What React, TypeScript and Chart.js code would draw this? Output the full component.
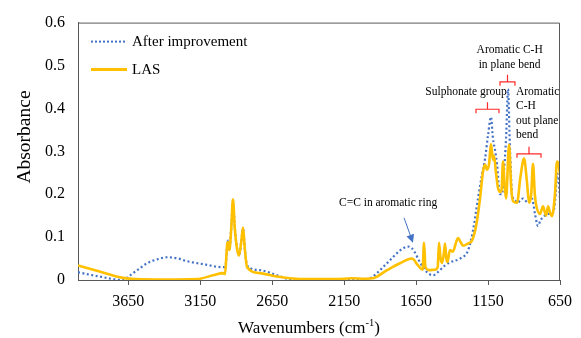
import React, { useEffect, useRef } from 'react';
import { Chart, registerables } from 'chart.js';

Chart.register(...registerables);

const FONT = "'Liberation Serif', 'Times New Roman', serif";

// After improvement (blue dotted)
const afterWn = [4000, 3850, 3687, 3638, 3580, 3520, 3450, 3381, 3300, 3243, 3131, 2992, 2975, 2962, 2957, 2948, 2935, 2923, 2910, 2893, 2881, 2865, 2853, 2840, 2825, 2735, 2617, 2527, 2400, 2000, 1960, 1922, 1880, 1832, 1762, 1706, 1680, 1658, 1623, 1574, 1533, 1484, 1449, 1415, 1345, 1289, 1255, 1220, 1192, 1171, 1150, 1130, 1116, 1100, 1088, 1067, 1053, 1040, 1025, 1011, 1000, 990, 984, 960, 949, 907, 872, 845, 824, 803, 785, 768, 740, 699, 680, 671, 660, 650];
const afterAbs = [0.018, 0.008, 0.0, 0.011, 0.025, 0.039, 0.048, 0.053, 0.05, 0.044, 0.037, 0.03, 0.032, 0.085, 0.092, 0.07, 0.12, 0.18, 0.12, 0.07, 0.058, 0.09, 0.12, 0.07, 0.034, 0.023, 0.011, 0.002, 0.001, 0.001, 0.006, 0.016, 0.03, 0.046, 0.069, 0.078, 0.074, 0.064, 0.041, 0.018, 0.011, 0.023, 0.034, 0.041, 0.05, 0.069, 0.115, 0.19, 0.246, 0.283, 0.338, 0.38, 0.33, 0.3, 0.27, 0.2, 0.2, 0.25, 0.33, 0.445, 0.33, 0.24, 0.2, 0.185, 0.18, 0.19, 0.18, 0.19, 0.154, 0.126, 0.14, 0.145, 0.154, 0.156, 0.2, 0.248, 0.235, 0.19];

// LAS (orange solid)
const lasWn = [4000, 3850, 3687, 3600, 3400, 3173, 3062, 2992, 2978, 2968, 2962, 2955, 2948, 2935, 2923, 2910, 2893, 2881, 2865, 2853, 2840, 2825, 2735, 2617, 2527, 2400, 2200, 2100, 2000, 1950, 1852, 1762, 1679, 1637, 1605, 1595, 1585, 1560, 1520, 1500, 1491, 1480, 1470, 1458, 1449, 1440, 1432, 1415, 1395, 1370, 1359, 1340, 1324, 1290, 1262, 1240, 1227, 1206, 1185, 1171, 1157, 1143, 1130, 1116, 1109, 1095, 1081, 1067, 1056, 1046, 1035, 1025, 1004, 990, 977, 949, 925, 900, 880, 865, 850, 838, 825, 817, 789, 768, 757, 747, 733, 720, 706, 685, 671, 660, 650];
const lasAbs = [0.034, 0.02, 0.005, 0.002, 0.001, 0.002, 0.011, 0.016, 0.014, 0.06, 0.087, 0.088, 0.07, 0.12, 0.188, 0.12, 0.07, 0.057, 0.09, 0.122, 0.07, 0.03, 0.016, 0.008, 0.004, 0.002, 0.002, 0.004, 0.003, 0.004, 0.023, 0.039, 0.05, 0.034, 0.024, 0.087, 0.03, 0.023, 0.024, 0.03, 0.087, 0.05, 0.04, 0.06, 0.085, 0.05, 0.042, 0.07, 0.066, 0.09, 0.098, 0.088, 0.08, 0.085, 0.092, 0.115, 0.138, 0.19, 0.253, 0.269, 0.257, 0.27, 0.317, 0.28, 0.29, 0.25, 0.215, 0.205, 0.21, 0.276, 0.22, 0.19, 0.315, 0.22, 0.184, 0.18, 0.24, 0.283, 0.23, 0.18, 0.2, 0.271, 0.2, 0.177, 0.154, 0.172, 0.16, 0.15, 0.172, 0.158, 0.149, 0.2, 0.276, 0.27, 0.246];

const xTicks = [650, 1150, 1650, 2150, 2650, 3150, 3650];
const yTicks = [0, 0.1, 0.2, 0.3, 0.4, 0.5, 0.6];
const seriesNames = ['After improvement', 'LAS'];

// Annotation texts (anchored in data coordinates: wavenumber, absorbance)
const textNotes = [
  { lines: ['Aromatic C-H', 'in plane bend'], wn: 1000, abs: 0.536, align: 'center' },
  { lines: ['Sulphonate group'], wn: 1303, abs: 0.439, align: 'center' },
  { lines: ['Aromatic', 'C-H', 'out plane', 'bend'], wn: 956, abs: 0.439, align: 'left' },
  { lines: ['C=C in aromatic ring'], wn: 1845, abs: 0.179, align: 'center' },
];
const brackets = [
  { from: 1067, to: 963, abs: 0.462 },
  { from: 1234, to: 1074, abs: 0.398 },
  { from: 949, to: 782, abs: 0.294 },
];
const arrowNote = { fromWn: 1734, fromAbs: 0.145, toWn: 1672, toAbs: 0.087 };

const BLUE = '#4472C4';
const ORANGE = '#FFC000';
const RED = '#FF2A2A';
const AXIS = '#595959';

const overlayPlugin = {
  id: 'overlay',
  afterDraw(chart: any) {
    const ctx = chart.ctx;
    const { left, right, top, bottom } = chart.chartArea;
    const xs = chart.scales.x;
    const ys = chart.scales.y;
    ctx.save();
    // frame top/right
    ctx.strokeStyle = AXIS;
    ctx.lineWidth = 1;
    ctx.beginPath();
    ctx.moveTo(left, top + 0.5);
    ctx.lineTo(right - 0.5, top + 0.5);
    ctx.lineTo(right - 0.5, bottom);
    ctx.stroke();

    // legend
    const lx0 = left + 13, lx1 = left + 49;
    const ly = [top + 19, top + 47];
    ctx.lineWidth = 2;
    ctx.strokeStyle = BLUE;
    ctx.setLineDash([2, 2]);
    ctx.beginPath(); ctx.moveTo(lx0, ly[0]); ctx.lineTo(lx1, ly[0]); ctx.stroke();
    ctx.setLineDash([]);
    ctx.lineWidth = 3;
    ctx.strokeStyle = ORANGE;
    ctx.beginPath(); ctx.moveTo(lx0, ly[1]); ctx.lineTo(lx1, ly[1]); ctx.stroke();
    ctx.fillStyle = '#000';
    ctx.font = `15px ${FONT}`;
    ctx.textBaseline = 'middle';
    ctx.textAlign = 'left';
    ctx.fillText(seriesNames[0], lx1 + 5, ly[0]);
    ctx.fillText(seriesNames[1], lx1 + 5, ly[1]);

    // annotations
    ctx.font = `11.5px ${FONT}`;
    for (const n of textNotes) {
      const x = xs.getPixelForValue(n.wn);
      const y = ys.getPixelForValue(n.abs);
      ctx.textAlign = n.align;
      n.lines.forEach((t, i) => ctx.fillText(t, x, y + i * 14.5));
    }
    ctx.strokeStyle = RED;
    ctx.lineWidth = 1.2;
    for (const b of brackets) {
      const x0 = xs.getPixelForValue(b.from);
      const x1 = xs.getPixelForValue(b.to);
      const y = ys.getPixelForValue(b.abs);
      const xm = (x0 + x1) / 2;
      ctx.beginPath();
      ctx.moveTo(x0, y + 4); ctx.lineTo(x0, y); ctx.lineTo(x1, y); ctx.lineTo(x1, y + 4);
      ctx.moveTo(xm, y); ctx.lineTo(xm, y - 7);
      ctx.stroke();
    }
    // arrow
    const ax0 = xs.getPixelForValue(arrowNote.fromWn), ay0 = ys.getPixelForValue(arrowNote.fromAbs);
    const ax1 = xs.getPixelForValue(arrowNote.toWn), ay1 = ys.getPixelForValue(arrowNote.toAbs);
    const ang = Math.atan2(ay1 - ay0, ax1 - ax0);
    const hl = 8, hw = 4;
    const bx = ax1 - hl * Math.cos(ang), by = ay1 - hl * Math.sin(ang);
    ctx.strokeStyle = BLUE; ctx.fillStyle = BLUE; ctx.lineWidth = 1;
    ctx.beginPath(); ctx.moveTo(ax0, ay0); ctx.lineTo(bx, by); ctx.stroke();
    ctx.beginPath();
    ctx.moveTo(ax1, ay1);
    ctx.lineTo(bx + hw * Math.sin(ang), by - hw * Math.cos(ang));
    ctx.lineTo(bx - hw * Math.sin(ang), by + hw * Math.cos(ang));
    ctx.closePath(); ctx.fill();

    // axis titles
    ctx.fillStyle = '#000';
    const cx = (left + right) / 2 - 10;
    const main = 'Wavenumbers (cm';
    const sup = '-1';
    const close = ')';
    const big = `17px ${FONT}`;
    const small = `10.5px ${FONT}`;
    ctx.font = big;
    const w1 = ctx.measureText(main).width;
    const w3 = ctx.measureText(close).width;
    ctx.font = small;
    const w2 = ctx.measureText(sup).width;
    const sx = cx - (w1 + w2 + w3) / 2;
    const base = 333;
    ctx.textAlign = 'left';
    ctx.textBaseline = 'alphabetic';
    ctx.font = big;
    ctx.fillText(main, sx, base);
    ctx.font = small;
    ctx.fillText(sup, sx + w1, base - 7);
    ctx.font = big;
    ctx.fillText(close, sx + w1 + w2, base);

    ctx.translate(25, 137);
    ctx.rotate(-Math.PI / 2);
    ctx.textAlign = 'center';
    ctx.textBaseline = 'middle';
    ctx.font = `19.5px ${FONT}`;
    ctx.fillText('Absorbance', 0, 0);
    ctx.restore();
  },
};

export default function App() {
  const ref = useRef<HTMLCanvasElement>(null);
  useEffect(() => {
    if (!ref.current) return;
    const chart = new Chart(ref.current, {
      type: 'line',
      data: {
        datasets: [
          {
            label: seriesNames[1],
            data: lasWn.map((w, i) => ({ x: w, y: lasAbs[i] })),
            borderColor: ORANGE,
            borderWidth: 2.6,
            pointRadius: 0,
            cubicInterpolationMode: 'monotone',
            order: 0,
          },
          {
            label: seriesNames[0],
            data: afterWn.map((w, i) => ({ x: w, y: afterAbs[i] })),
            borderColor: BLUE,
            borderWidth: 2.2,
            borderDash: [2, 2.5],
            pointRadius: 0,
            cubicInterpolationMode: 'monotone',
            order: 1,
          },
        ],
      },
      options: {
        animation: false,
        responsive: false,
        devicePixelRatio: 1,
        layout: { padding: { top: 19, right: 21, left: 0, bottom: 0 } },
        plugins: { legend: { display: false }, tooltip: { enabled: false } },
        scales: {
          x: {
            type: 'linear',
            reverse: true,
            min: 650,
            max: 4000,
            afterBuildTicks: (s: any) => { s.ticks = xTicks.map((v) => ({ value: v })); },
            afterFit: (s: any) => { s.height = 58; },
            ticks: { font: { family: FONT, size: 16 }, color: '#000', padding: 7, maxRotation: 0, autoSkip: false, callback: (v: any) => String(v) },
            grid: { display: true, drawOnChartArea: false, drawTicks: true, tickLength: 5, color: AXIS },
            border: { display: true, color: AXIS },
          },
          y: {
            type: 'linear',
            min: 0,
            max: 0.6,
            afterBuildTicks: (s: any) => { s.ticks = yTicks.map((v) => ({ value: v })); },
            afterFit: (s: any) => { s.width = 78; },
            ticks: { font: { family: FONT, size: 16 }, color: '#000', padding: 13, callback: (v: any) => (v === 0 ? '0' : Number(v).toFixed(1)) },
            grid: { display: false, drawTicks: false },
            border: { display: true, color: AXIS },
          },
        },
      },
      plugins: [overlayPlugin],
    } as any);
    return () => chart.destroy();
  }, []);
  return (
    <canvas
      ref={ref}
      width={581}
      height={338}
      style={{ position: 'absolute', left: 0, top: 0, width: 581, height: 338, display: 'block' }}
    />
  );
}
